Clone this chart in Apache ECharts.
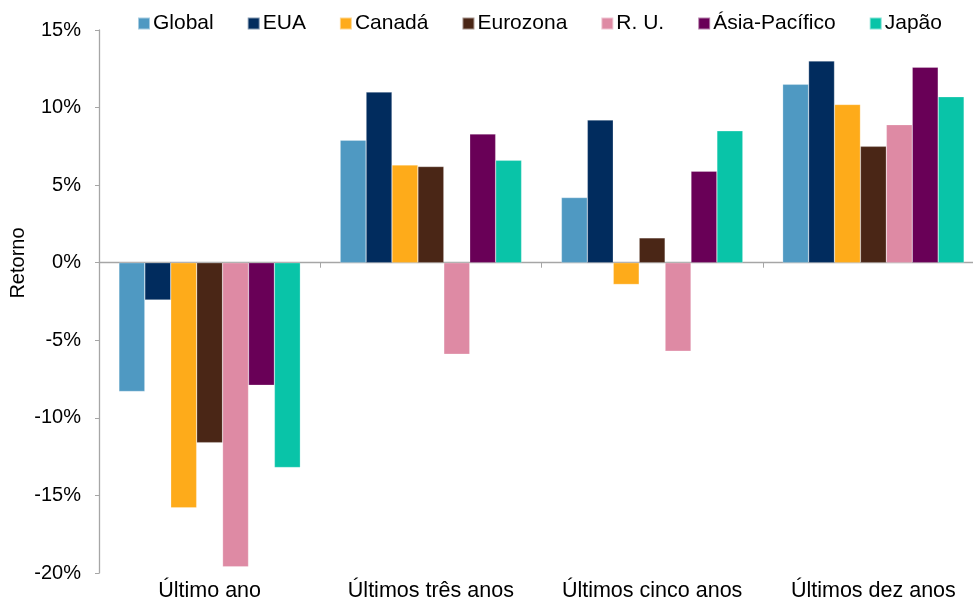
<!DOCTYPE html>
<html><head><meta charset="utf-8">
<script src="https://cdn.jsdelivr.net/npm/echarts@6/dist/echarts.min.js"></script>
<style>html,body{margin:0;padding:0;background:#fff}#c{width:973px;height:600px}</style>
</head><body><div id="c"></div>
<script>
const categories = ['Último ano', 'Últimos três anos', 'Últimos cinco anos', 'Últimos dez anos'];
const seriesNames = ['Global', 'EUA', 'Canadá', 'Eurozona', 'R. U.', 'Ásia-Pacífico', 'Japão'];
const global = [-8.3, 7.9, 4.2, 11.5];
const eua = [-2.4, 11.0, 9.2, 13.0];
const canada = [-15.8, 6.3, -1.4, 10.2];
const eurozona = [-11.6, 6.2, 1.6, 7.5];
const ru = [-19.6, -5.9, -5.7, 8.9];
const asia = [-7.9, 8.3, 5.9, 12.6];
const japao = [-13.2, 6.6, 8.5, 10.7];
const colors = ['#4F99C2', '#012C5E', '#FEAB1A', '#4A2616', '#DE8AA4', '#690057', '#09C4A8'];
const values = [global, eua, canada, eurozona, ru, asia, japao];

const font = 'Liberation Sans, Arial, sans-serif';
const chart = echarts.init(document.getElementById('c'));
chart.setOption({
  animation: false,
  color: colors,
  textStyle: { fontFamily: font },
  legend: {
    top: 13, left: 137, padding: 0, itemWidth: 12, itemHeight: 12, itemGap: 33,
    icon: 'rect',
    textStyle: { fontFamily: font, fontSize: 21, color: '#000', padding: [0, 0, 0, -2] },
    data: seriesNames
  },
  grid: { left: 99, width: 885, top: 30, bottom: 27, containLabel: false, outerBoundsMode: 'none' },
  xAxis: [
    {
      type: 'category', data: categories, position: 'bottom',
      axisLine: { show: false, onZero: false }, axisTick: { show: false },
      axisLabel: { fontFamily: font, fontSize: 21.5, color: '#000', margin: 7, interval: 0 }
    },
    {
      type: 'category', data: categories, position: 'bottom',
      axisLine: { show: true, onZero: true, lineStyle: { color: '#A6A6A6', width: 1.3 } },
      axisTick: { show: true, length: 5, lineStyle: { color: '#A6A6A6' } },
      axisLabel: { show: false }
    }
  ],
  yAxis: {
    type: 'value', min: -20, max: 15, interval: 5,
    axisLine: { show: true, lineStyle: { color: '#A6A6A6', width: 1.3 } },
    axisTick: { show: true, length: 4, lineStyle: { color: '#A6A6A6' } },
    splitLine: { show: false },
    axisLabel: { fontFamily: font, fontSize: 20, color: '#000', margin: 18, formatter: '{value}%' }
  },
  graphic: [{
    type: 'text', x: 18, y: 263, rotation: Math.PI / 2,
    style: { text: 'Retorno', font: '20px ' + font, fill: '#000', align: 'center', verticalAlign: 'middle' }
  }],
  series: seriesNames.map((n, i) => ({
    name: n, type: 'bar', xAxisIndex: 0, data: values[i],
    barGap: '0%', barCategoryGap: '18%',
    itemStyle: { color: colors[i], borderColor: 'rgba(255,255,255,0.5)', borderWidth: 0.5 }
  }))
});
</script></body></html>
